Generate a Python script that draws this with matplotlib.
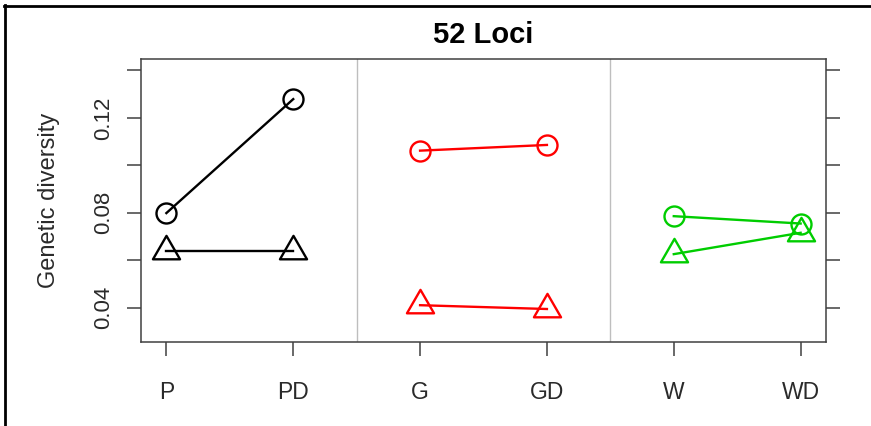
import numpy as np
import matplotlib
matplotlib.use("Agg")
import matplotlib.pyplot as plt
from matplotlib.path import Path
from matplotlib.lines import Line2D

plt.rcParams['font.family'] = ['Liberation Sans', 'DejaVu Sans']

# data
groups = ['P', 'PD', 'G', 'GD', 'W', 'WD']
colors = ['black', 'red', '#00CD00']
circle_vals = [[0.0799, 0.1279], [0.1062, 0.1086], [0.0786, 0.0755]]
triangle_vals = [[0.0640, 0.0640], [0.0411, 0.0395], [0.0626, 0.0716]]
ytick_vals = [0.04, 0.06, 0.08, 0.10, 0.12, 0.14]
ytick_labels = ['0.04', '', '0.08', '', '0.12', '']
title = '52 Loci'
ylabel = 'Genetic diversity'

# R style open triangle, centred on its centroid
tri = Path([(0, 1), (-0.866, -0.5), (0.866, -0.5), (0, 1)],
           [Path.MOVETO, Path.LINETO, Path.LINETO, Path.CLOSEPOLY])

fig = plt.figure(figsize=(8.71, 4.26), dpi=100)
ax = fig.add_axes([141/871, 1 - 342/426, 685/871, 283/426])

x = np.arange(1, len(groups) + 1)
for i, col in enumerate(colors):
    xs = x[2*i:2*i + 2]
    ax.plot(xs, circle_vals[i], color=col, lw=1.7, marker='o', ms=14.4,
            mfc='none', mec=col, mew=1.7)
    ax.plot(xs, triangle_vals[i], color=col, lw=1.7, marker=tri, ms=22.5,
            mfc='none', mec=col, mew=1.7)

# panel dividers
for b in [2.5, 4.5]:
    ax.axvline(b, color='#BEBEBE', lw=1.0, zorder=0)

ax.set_xlim(0.8, 6.2)
ax.set_ylim(0.0256, 0.1448)
ax.set_xticks(x)
ax.set_xticklabels(groups, fontsize=16.5, color='#2a2a2a')
ax.set_yticks(ytick_vals)
ax.set_yticklabels(ytick_labels, fontsize=16, rotation=90, va='center',
                   color='#2a2a2a')

for s in ax.spines.values():
    s.set_color('#404040')
    s.set_linewidth(1.1)
ax.tick_params(axis='both', length=10, width=1.1, color='#404040')
ax.tick_params(axis='x', pad=18)
ax.tick_params(axis='y', right=True, pad=9)

ax.text(0.5, 1 + 24/283, title, transform=ax.transAxes, ha='center',
        va='center', fontsize=21, fontweight='bold')
ax.text(-92/685, 0.5, ylabel, transform=ax.transAxes, ha='center',
        va='center', rotation=90, fontsize=17, color='#2a2a2a')

# outer frame (top and left edge only visible)
fig.add_artist(Line2D([4/871, 1], [1 - 5.5/426, 1 - 5.5/426],
                      color='black', lw=2.0, transform=fig.transFigure))
fig.add_artist(Line2D([5/871, 5/871], [0, 1 - 4.5/426],
                      color='black', lw=2.0, transform=fig.transFigure))

fig.savefig('out.png', dpi=100)
